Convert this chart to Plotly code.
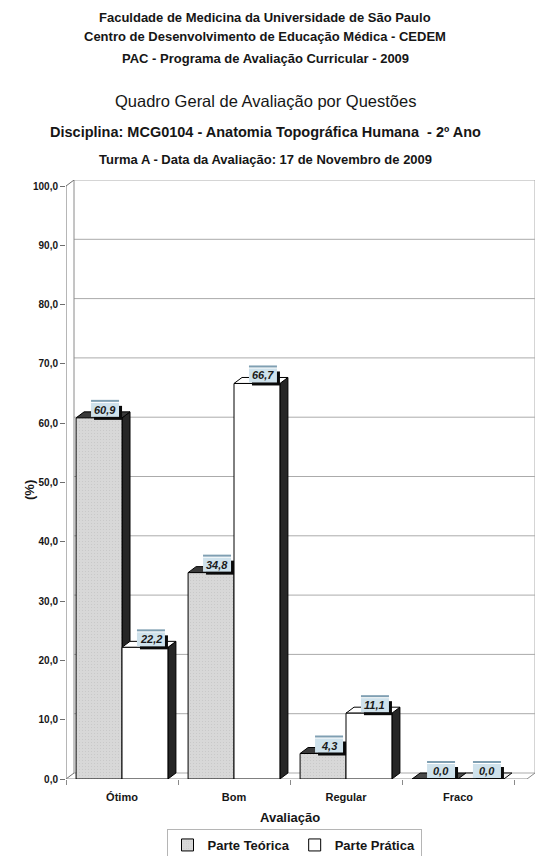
import plotly.graph_objects as go

# ---- data -------------------------------------------------------------
categories = ["Ótimo", "Bom", "Regular", "Fraco"]
teorica = [60.9, 34.8, 4.3, 0.0]
pratica = [22.2, 66.7, 11.1, 0.0]
series_names = ["Parte Teórica", "Parte Prática"]
y_ticks = [0, 10, 20, 30, 40, 50, 60, 70, 80, 90, 100]

title_lines = [
    "Faculdade de Medicina da Universidade de São Paulo",
    "Centro de Desenvolvimento de Educação Médica - CEDEM",
    "PAC - Programa de Avaliação Curricular - 2009",
    "Quadro Geral de Avaliação por Questões",
    "Disciplina: MCG0104 - Anatomia Topográfica Humana  - 2º Ano",
    "Turma A - Data da Avaliação: 17 de Novembro de 2009",
]

# ---- geometry ---------------------------------------------------------
W, H = 536, 856
M_L, M_R, M_T, M_B = 66, 1, 180, 77
PLOT_W = W - M_L - M_R
PLOT_H = H - M_T - M_B
PX_PER_CAT = 112.0
PX_PER_UNIT = 5.93           # pixels per percentage point
DEPTH_PX_X, DEPTH_PX_Y = 8, 6

X0 = -0.5
X1 = X0 + PLOT_W / PX_PER_CAT
Y1 = PLOT_H / PX_PER_UNIT
DX = DEPTH_PX_X / PX_PER_CAT
DY = DEPTH_PX_Y / PX_PER_UNIT
BARGAP = 0.18
HALF = (1 - BARGAP) / 4      # half width of one bar in a group of two

FONT = "Liberation Sans, Arial, sans-serif"
INK = "#161616"
FILLS = ["#d8d8d8", "#ffffff"]
TOP_FILLS = ["#3a3a3a", "#ffffff"]
SIDE_FILL = "#262626"
GRID = "#ababab"

# value label box, in pixels relative to the bar's top-centre
BOX = dict(x0=-8, x1=20, y0=1, y1=15)
SHADOW_OFF = 3


def fmt(v):
    return f"{v:.1f}".replace(".", ",")


def paper_y(py):
    return (H - M_B - py) / PLOT_H


def paper_x(px):
    return (px - M_L) / PLOT_W


fig = go.Figure()

x_idx = list(range(len(categories)))
for s, (name, vals, fill) in enumerate(zip(series_names, [teorica, pratica], FILLS)):
    marker = dict(color=fill, line=dict(color="#000000", width=1))
    if s == 0:
        marker["pattern"] = dict(shape=".", fgcolor="#b4b4b4", bgcolor=fill,
                                 size=3, solidity=0.12)
    fig.add_trace(go.Bar(name=name, x=x_idx, y=vals, marker=marker,
                         hoverinfo="skip"))

shapes = []


def seg(x0, y0, x1, y1, color, width=1):
    shapes.append(dict(type="line", xref="x", yref="y", layer="between",
                       x0=x0, x1=x1, y0=y0, y1=y1,
                       line=dict(color=color, width=width)))


# back wall gridlines and frame
for v in y_ticks:
    seg(X0 + DX, v + DY, X1, v + DY, GRID)
seg(X0 + DX, DY, X0 + DX, 100 + DY, "#8a8a8a")
seg(X1, DY, X1, 100 + DY, GRID)
# front value axis and floor edges
seg(X0, 0, X0, 100, "#6e6e6e")
seg(X0, 100, X0 + DX, 100 + DY, "#6e6e6e")
seg(X0, 0, X0 + DX, DY, "#6e6e6e")
seg(X0, 0, X1 - DX, 0, "#8a8a8a")
seg(X1 - DX, 0, X1, DY, "#8a8a8a")

# depth faces of each bar (side and top), drawn behind the front faces
for s, vals in enumerate([teorica, pratica]):
    offset = (-1 if s == 0 else 1) * HALF
    for i, v in enumerate(vals):
        c = i + offset
        xl, xr = c - HALF, c + HALF
        if v > 0:
            shapes.append(dict(
                type="path", xref="x", yref="y", layer="between",
                path=f"M{xr},0 L{xr + DX},{DY} L{xr + DX},{v + DY} L{xr},{v} Z",
                fillcolor=SIDE_FILL, line=dict(color="#000000", width=1)))
        top = TOP_FILLS[s] if v > 0 else ("#4a4a4a" if s == 0 else "#f0f0f0")
        shapes.append(dict(
            type="path", xref="x", yref="y", layer="between",
            path=f"M{xl},{v} L{xl + DX},{v + DY} L{xr + DX},{v + DY} L{xr},{v} Z",
            fillcolor=top, line=dict(color="#000000", width=1)))

annotations = []

# value labels: shadowed light-blue tag above each bar
for s, vals in enumerate([teorica, pratica]):
    offset = (-1 if s == 0 else 1) * HALF
    for i, v in enumerate(vals):
        c = i + offset
        anchor = dict(xref="x", yref="y", xsizemode="pixel", ysizemode="pixel",
                      xanchor=c, yanchor=v, layer="above")
        shapes.append(dict(anchor, type="rect",
                           x0=BOX["x0"] + SHADOW_OFF, x1=BOX["x1"] + SHADOW_OFF,
                           y0=BOX["y0"] - SHADOW_OFF, y1=BOX["y1"] - SHADOW_OFF,
                           fillcolor="#0a0a0a", line=dict(width=0)))
        shapes.append(dict(anchor, type="rect",
                           x0=BOX["x0"], x1=BOX["x1"], y0=BOX["y0"], y1=BOX["y1"],
                           fillcolor="#cfe2ec", line=dict(width=0)))
        shapes.append(dict(anchor, type="rect",
                           x0=BOX["x0"], x1=BOX["x1"],
                           y0=BOX["y1"] + 1, y1=BOX["y1"] + 3,
                           fillcolor="#7f9fb2", line=dict(width=0)))
        annotations.append(dict(
            text=f"<b><i>{fmt(v)}</i></b>", x=c, y=v, xref="x", yref="y",
            xshift=(BOX["x0"] + BOX["x1"]) / 2,
            yshift=(BOX["y0"] + BOX["y1"]) / 2,
            xanchor="center", yanchor="middle", showarrow=False,
            font=dict(family=FONT, size=11, color="#1a1a1a")))

# heading lines
heading = [
    (17, 13, True), (36, 13, True), (59, 13, True),
    (101, 16.5, False), (132, 14.5, True), (160, 13, True),
]
for text, (py, size, bold) in zip(title_lines, heading):
    annotations.append(dict(
        text=f"<b>{text}</b>" if bold else text,
        x=paper_x(265), y=paper_y(py), xref="paper", yref="paper",
        xanchor="center", yanchor="middle", showarrow=False,
        font=dict(family=FONT, size=size, color=INK)))

# axis titles
annotations.append(dict(text="<b>Avaliação</b>", x=paper_x(290), y=paper_y(817),
                        xref="paper", yref="paper", showarrow=False,
                        xanchor="center", yanchor="middle",
                        font=dict(family=FONT, size=13, color=INK)))
annotations.append(dict(text="<b>(%)</b>", x=paper_x(30), y=paper_y(490),
                        xref="paper", yref="paper", showarrow=False,
                        textangle=-90, xanchor="center", yanchor="middle",
                        font=dict(family=FONT, size=13, color=INK)))

fig.update_layout(
    width=W, height=H,
    margin=dict(l=M_L, r=M_R, t=M_T, b=M_B, autoexpand=False),
    paper_bgcolor="#ffffff", plot_bgcolor="#ffffff",
    barmode="group", bargap=BARGAP, bargroupgap=0,
    font=dict(family=FONT, color=INK),
    showlegend=True,
    legend=dict(orientation="h", xref="container", yref="container",
                x=294 / W, y=1 - 829 / H,
                xanchor="center", yanchor="top",
                bordercolor="#b5b5b5", borderwidth=1, bgcolor="#ffffff",
                font=dict(family=FONT, size=13, color=INK, weight="bold"),
                traceorder="normal", itemwidth=30, tracegroupgap=0),
    shapes=shapes,
    annotations=annotations,
)

fig.update_xaxes(
    range=[X0, X1], tickmode="array", tickvals=x_idx, ticktext=categories,
    showgrid=False, zeroline=False, showline=False, ticks="",
    ticklabelstandoff=10, automargin=False,
    tickfont=dict(family=FONT, size=11, color=INK, weight="bold"),
    minor=dict(tick0=-0.5, dtick=1, ticks="outside", ticklen=5,
               tickcolor="#8a8a8a", showgrid=False),
    fixedrange=True,
)
fig.update_yaxes(
    range=[0, Y1], tickmode="array", tickvals=y_ticks,
    ticktext=[fmt(v) for v in y_ticks],
    showgrid=False, zeroline=False, showline=False, automargin=False,
    ticks="outside", ticklen=5, tickcolor="#6e6e6e",
    tickfont=dict(family=FONT, size=10, color=INK, weight="bold"),
    fixedrange=True,
)

fig.write_html("out.html")
